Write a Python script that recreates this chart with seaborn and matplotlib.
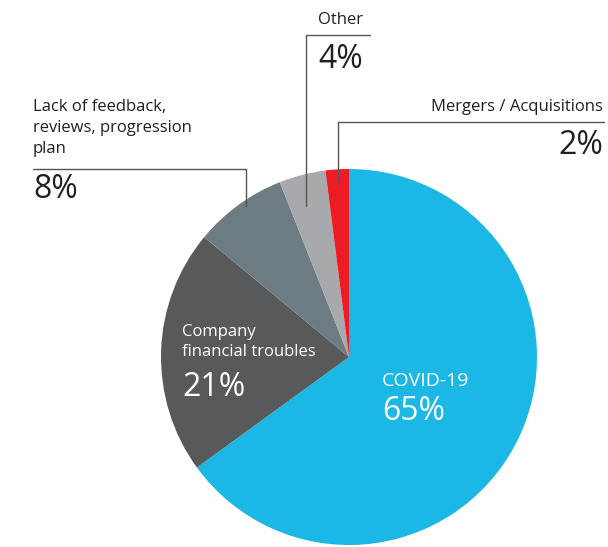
import matplotlib
matplotlib.use("Agg")
import matplotlib.pyplot as plt
import seaborn as sns

sns.set_theme(style="white")
plt.rcParams['font.family'] = ['Open Sans', 'DejaVu Sans']

# data
categories = ["COVID-19", "Company financial troubles",
              "Lack of feedback, reviews, progression plan",
              "Other", "Mergers / Acquisitions"]
shares = [65, 21, 8, 4, 2]
pct_labels = ["65%", "21%", "8%", "4%", "2%"]
colors = sns.color_palette(["#1bb8e5", "#58595b", "#6d7b82", "#a7a9ac", "#ed1c24"])

W, H = 608, 547
fig = plt.figure(figsize=(W / 100, H / 100), dpi=100)
ax = fig.add_axes([0, 0, 1, 1])


def yy(py):
    # pixel row -> data y
    return H - py


ax.pie(shares, colors=colors, startangle=90, counterclock=False,
       center=(349, yy(357)), radius=188, wedgeprops=dict(linewidth=0))

# pie() resets the view, so set it afterwards
ax.set_xlim(0, W)
ax.set_ylim(0, H)
ax.set_aspect("equal")
ax.axis("off")

line_kw = dict(color="#555555", lw=1)
small = 12
big = 23
dark = "#231f20"

# inside labels
ax.text(182, yy(342), "Company\nfinancial troubles", color="white", fontsize=small,
        ha="left", va="center", linespacing=1.4)
ax.text(182, yy(387), pct_labels[1], color="white", fontsize=big, ha="left", va="center")
ax.text(382, yy(381), "COVID-19", color="white", fontsize=14, ha="left", va="center")
ax.text(382, yy(412), pct_labels[0], color="white", fontsize=big, ha="left", va="center")

# lack of feedback
ax.plot([33, 246, 246], [yy(169), yy(169), yy(206)], **line_kw)
ax.text(33, yy(128), "Lack of feedback,\nreviews, progression\nplan", color=dark,
        fontsize=small, ha="left", va="center", linespacing=1.4)
ax.text(33, yy(190), pct_labels[2], color=dark, fontsize=big, ha="left", va="center")

# other
ax.plot([370, 306, 306], [yy(35), yy(35), yy(206)], **line_kw)
ax.text(318, yy(20), "Other", color=dark, fontsize=small, ha="left", va="center")
ax.text(318, yy(60), pct_labels[3], color=dark, fontsize=big, ha="left", va="center")

# mergers
ax.plot([604, 338, 338], [yy(122), yy(122), yy(182)], **line_kw)
ax.text(603, yy(107), "Mergers / Acquisitions", color=dark, fontsize=small,
        ha="right", va="center")
ax.text(603, yy(145), pct_labels[4], color=dark, fontsize=big, ha="right", va="center")

fig.savefig("out.png", dpi=100)
